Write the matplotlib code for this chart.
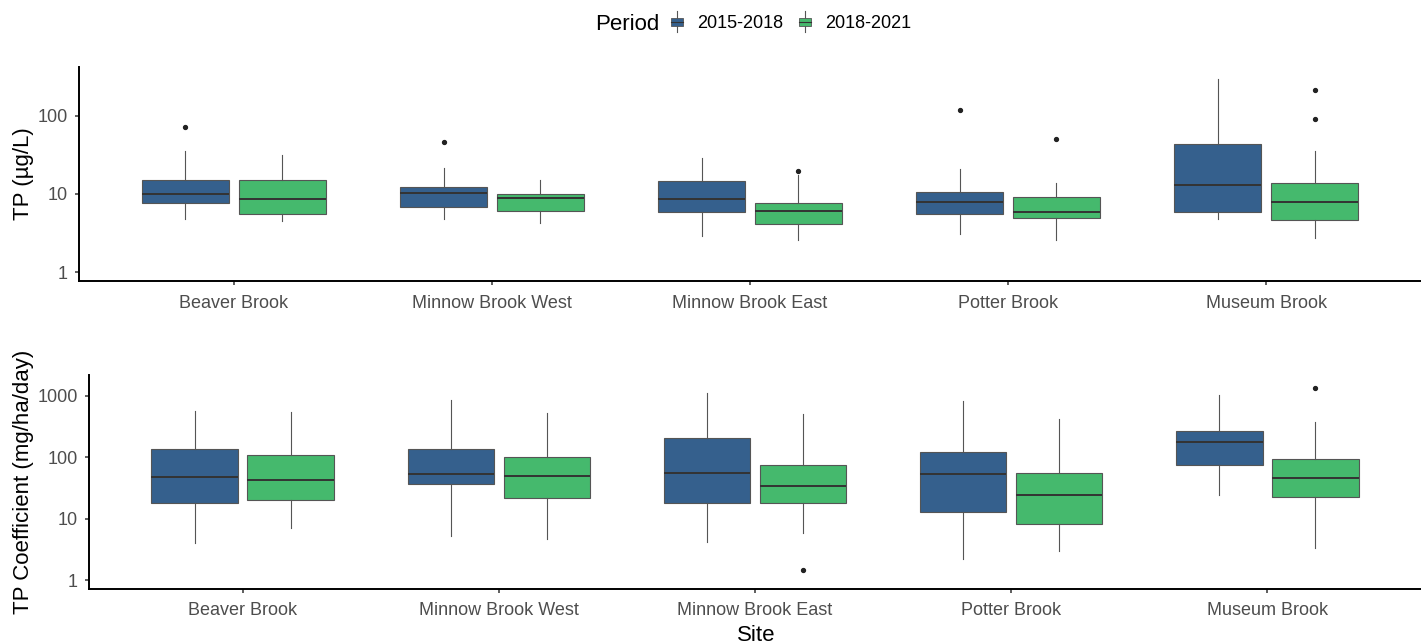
import matplotlib
matplotlib.use("Agg")
import matplotlib.pyplot as plt
import numpy as np
from matplotlib.patches import Rectangle, Patch
from matplotlib.lines import Line2D
from matplotlib.legend_handler import HandlerBase
from matplotlib.ticker import NullLocator

plt.rcParams['font.family'] = ['Liberation Sans', 'DejaVu Sans']

sites = ['Beaver Brook', 'Minnow Brook West', 'Minnow Brook East', 'Potter Brook', 'Museum Brook']
periods = ['2015-2018', '2018-2021']
colors = ['#35608D', '#45B96D']

# TP concentration (ug/L), rows = periods
tp_lo = [[4.84, 4.75, 2.91, 3.06, 4.84], [4.56, 4.26, 2.61, 2.61, 2.72]]
tp_q1 = [[7.74, 6.85, 5.89, 5.61, 5.84], [5.51, 6.12, 4.18, 4.98, 4.66]]
tp_med = [[10.1, 10.4, 8.71, 7.97, 13.0], [8.71, 8.81, 6.06, 5.94, 7.97]]
tp_q3 = [[15.0, 12.3, 14.7, 10.6, 43.1], [15.0, 9.91, 7.74, 9.16, 13.9]]
tp_hi = [[35.7, 21.5, 28.8, 20.7, 292], [31.2, 15.1, 17.5, 13.7, 35.1]]
tp_out = [[[71.7], [46.0], [], [119], []], [[], [], [19.8], [50.4], [213, 90.7]]]

# TP export coefficient (mg/ha/day)
co_lo = [[3.96, 5.21, 4.16, 2.17, 24.2], [7.03, 4.65, 5.75, 2.93, 3.36]]
co_q1 = [[17.8, 36.6, 17.9, 13.0, 73.7], [19.9, 21.4, 18.2, 8.26, 22.7]]
co_med = [[47.6, 53.2, 56.0, 53.9, 175], [43.0, 48.8, 33.6, 24.2, 46.4]]
co_q3 = [[138, 138, 203, 120, 264], [107, 99.5, 73.7, 54.6, 94.6]]
co_hi = [[565, 844, 1111, 832, 1030], [538, 519, 499, 413, 378]]
co_out = [[[], [], [], [], []], [[], [], [1.46], [], [1340]]]

EDGE = '#555555'
TICKLAB = '#4D4D4D'


def draw_panel(ax, lo, q1, med, q3, hi, out):
    x = np.arange(len(sites))
    for k in range(len(periods)):
        stats = []
        for i in range(len(sites)):
            stats.append(dict(whislo=lo[k][i], q1=q1[k][i], med=med[k][i],
                              q3=q3[k][i], whishi=hi[k][i], fliers=out[k][i]))
        pos = x + (k - 0.5) * 0.375
        ax.bxp(stats, positions=pos, widths=0.3375, patch_artist=True,
               showcaps=False, manage_ticks=False,
               boxprops=dict(facecolor=colors[k], edgecolor=EDGE, linewidth=0.8),
               medianprops=dict(color='#333333', linewidth=1.4),
               whiskerprops=dict(color=EDGE, linewidth=0.8),
               flierprops=dict(marker='o', markersize=2.8, markerfacecolor='#222222',
                               markeredgecolor='#222222'))
    ax.set_yscale('log')
    ax.set_xlim(-0.6, len(sites) - 0.4)
    ax.set_xticks(x)
    ax.set_xticklabels(sites)
    ax.yaxis.set_minor_locator(NullLocator())
    for s in ['top', 'right']:
        ax.spines[s].set_visible(False)
    for s in ['left', 'bottom']:
        ax.spines[s].set_linewidth(1.4)
        ax.spines[s].set_color('black')
    ax.tick_params(axis='both', length=3, width=1.1, color='#333333',
                   labelsize=13, labelcolor=TICKLAB)
    ax.tick_params(axis='x', pad=7)
    ax.tick_params(axis='y', pad=5)


class BoxKey(HandlerBase):
    def create_artists(self, legend, orig_handle, xdescent, ydescent,
                       width, height, fontsize, trans):
        fc = orig_handle.get_facecolor()
        cx = width / 2 - xdescent
        bw = 9
        bh = height * 0.55
        y0 = -ydescent + (height - bh) / 2
        wl = Line2D([cx, cx], [-ydescent - 2, height - ydescent + 2], color=EDGE,
                    lw=0.8, transform=trans)
        box = Rectangle((cx - bw / 2, y0), bw, bh, facecolor=fc, edgecolor=EDGE,
                        lw=0.6, transform=trans)
        md = Line2D([cx - bw / 2, cx + bw / 2], [y0 + bh / 2] * 2, color='#333333',
                    lw=0.8, transform=trans)
        return [wl, box, md]


W, H = 1421, 644
fig = plt.figure(figsize=(W / 100, H / 100), dpi=100)
ax1 = fig.add_axes([79 / W, 1 - 281 / H, 1342 / W, 214 / H])
ax2 = fig.add_axes([89 / W, 1 - 589.3 / H, 1332 / W, 214.3 / H])

draw_panel(ax1, tp_lo, tp_q1, tp_med, tp_q3, tp_hi, tp_out)
ax1.set_ylim(0.774, 417)
ax1.set_yticks([1, 10, 100])
ax1.set_yticklabels(['1', '10', '100'])
ax1.set_ylabel('TP (µg/L)', fontsize=16, color='black')
ax1.yaxis.set_label_coords(-0.0335, 0.5)

draw_panel(ax2, co_lo, co_q1, co_med, co_q3, co_hi, co_out)
ax2.set_ylim(0.706, 2175)
ax2.set_yticks([1, 10, 100, 1000])
ax2.set_yticklabels(['1', '10', '100', '1000'])
ax2.tick_params(axis='x', pad=6.5)
ax2.set_ylabel('TP Coefficient (mg/ha/day)', fontsize=16, color='black')
ax2.yaxis.set_label_coords(-0.0415, 0.5)

fig.text(756 / W, 1 - 641 / H, 'Site', ha='center', va='baseline', fontsize=16)

# legend along the top
fig.text(595 / W, 1 - 30.5 / H, 'Period', ha='left', va='baseline', fontsize=16)
handles = [Patch(facecolor=c) for c in colors]
fig.legend(handles, periods, loc='center left', bbox_to_anchor=(670 / W, 1 - 23 / H),
           ncol=2, frameon=False, fontsize=13, handlelength=0.8, handleheight=0.9,
           handletextpad=0.7, columnspacing=0.8, borderpad=0, borderaxespad=0,
           handler_map={Patch: BoxKey()})

fig.savefig('out.png', dpi=100)
